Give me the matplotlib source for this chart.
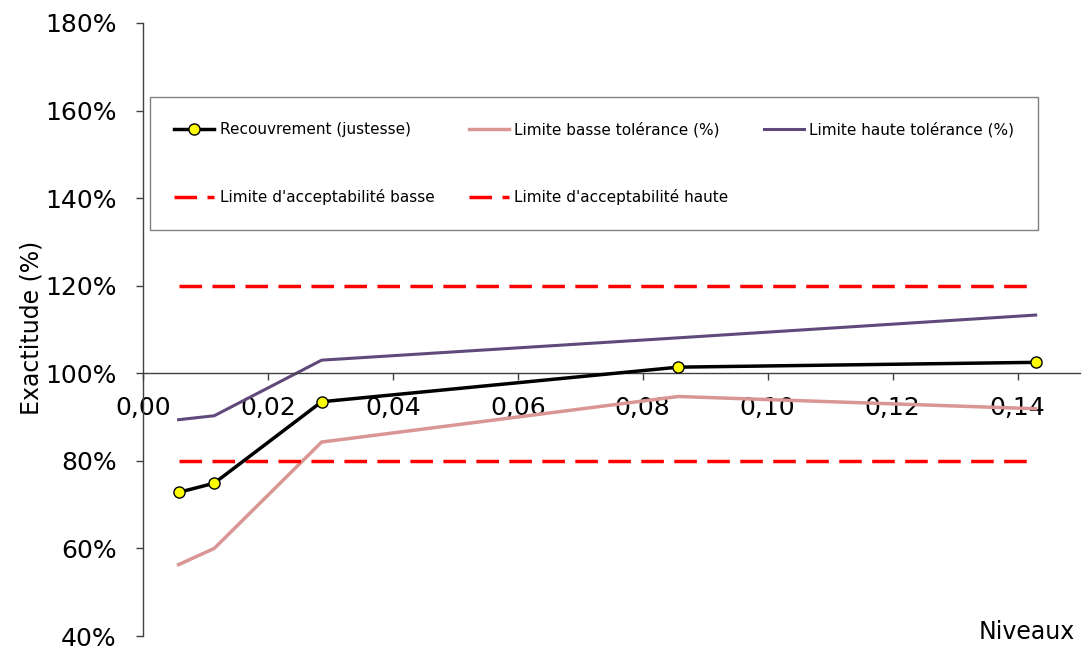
import matplotlib
matplotlib.use("Agg")
import matplotlib.pyplot as plt
from matplotlib.ticker import FuncFormatter, MultipleLocator

# Niveaux de concentration
niveaux = [0.0057, 0.0114, 0.0286, 0.0857, 0.1429]

# Exactitude (%)
recouvrement = [72.8, 74.9, 93.5, 101.4, 102.5]
tol_basse = [56.3, 60.0, 84.3, 94.7, 91.9]
tol_haute = [89.4, 90.3, 103.0, 108.1, 113.3]
accept_basse = [80, 80, 80, 80, 80]
accept_haute = [120, 120, 120, 120, 120]

plt.rcParams['font.family'] = ['DejaVu Sans']

fig = plt.figure(figsize=(10.83, 6.48), dpi=100)
ax = fig.add_axes([143 / 1083, 12 / 648, 937 / 1083, 613 / 648])

l1, = ax.plot(niveaux, recouvrement, color='black', lw=2.5, marker='o',
              markersize=8, markerfacecolor='#ffff00', markeredgecolor='black',
              markeredgewidth=1, label='Recouvrement (justesse)', zorder=5)
l2, = ax.plot(niveaux, tol_basse, color='#d99694', lw=2.5,
              label='Limite basse tolérance (%)')
l3, = ax.plot(niveaux, tol_haute, color='#604a7b', lw=2.2,
              label='Limite haute tolérance (%)')
l4, = ax.plot(niveaux, accept_basse, color='#ff0000', lw=2.5,
              linestyle=(0, (6.5, 3)), label="Limite d'acceptabilité basse")
l5, = ax.plot(niveaux, accept_haute, color='#ff0000', lw=2.5,
              linestyle=(0, (6.5, 3)), label="Limite d'acceptabilité haute")

ax.set_xlim(0, 0.15)
ax.set_ylim(40, 180)
ax.yaxis.set_major_locator(MultipleLocator(20))
ax.xaxis.set_major_locator(MultipleLocator(0.02))
ax.yaxis.set_major_formatter(FuncFormatter(lambda v, p: f"{v:.0f}%"))
ax.xaxis.set_major_formatter(
    FuncFormatter(lambda v, p: f"{v:.2f}".replace('.', ',') if v < 0.145 else ""))

# axe des x au niveau 100 %
ax.spines['bottom'].set_position(('data', 100))
ax.spines['top'].set_visible(False)
ax.spines['right'].set_visible(False)
for s in ('left', 'bottom'):
    ax.spines[s].set_color('#404040')
    ax.spines[s].set_linewidth(1)

ax.tick_params(axis='y', direction='out', length=5, width=1, color='#404040',
               labelsize=18, pad=14)
ax.tick_params(axis='x', direction='out', length=5, width=1, color='#404040',
               labelsize=18, pad=11)

handles = [l1, l4, l2, l5, l3]
leg = ax.legend(handles=handles, ncol=3, loc='upper left',
                bbox_to_anchor=(0.0075, 0.879), fontsize=11,
                frameon=True, fancybox=False, framealpha=1,
                edgecolor='#808080', handlelength=2.6, handletextpad=0.35,
                columnspacing=2.3, labelspacing=3.4, borderpad=1.6,
                borderaxespad=0)
leg.get_frame().set_linewidth(1)

fig.text(32 / 1083, 1 - 328 / 648, 'Exactitude (%)', rotation=90,
         ha='center', va='center', fontsize=17)
fig.text(1075 / 1083, 4 / 648, 'Niveaux', ha='right', va='bottom', fontsize=17)

fig.savefig('out.png', dpi=100)
